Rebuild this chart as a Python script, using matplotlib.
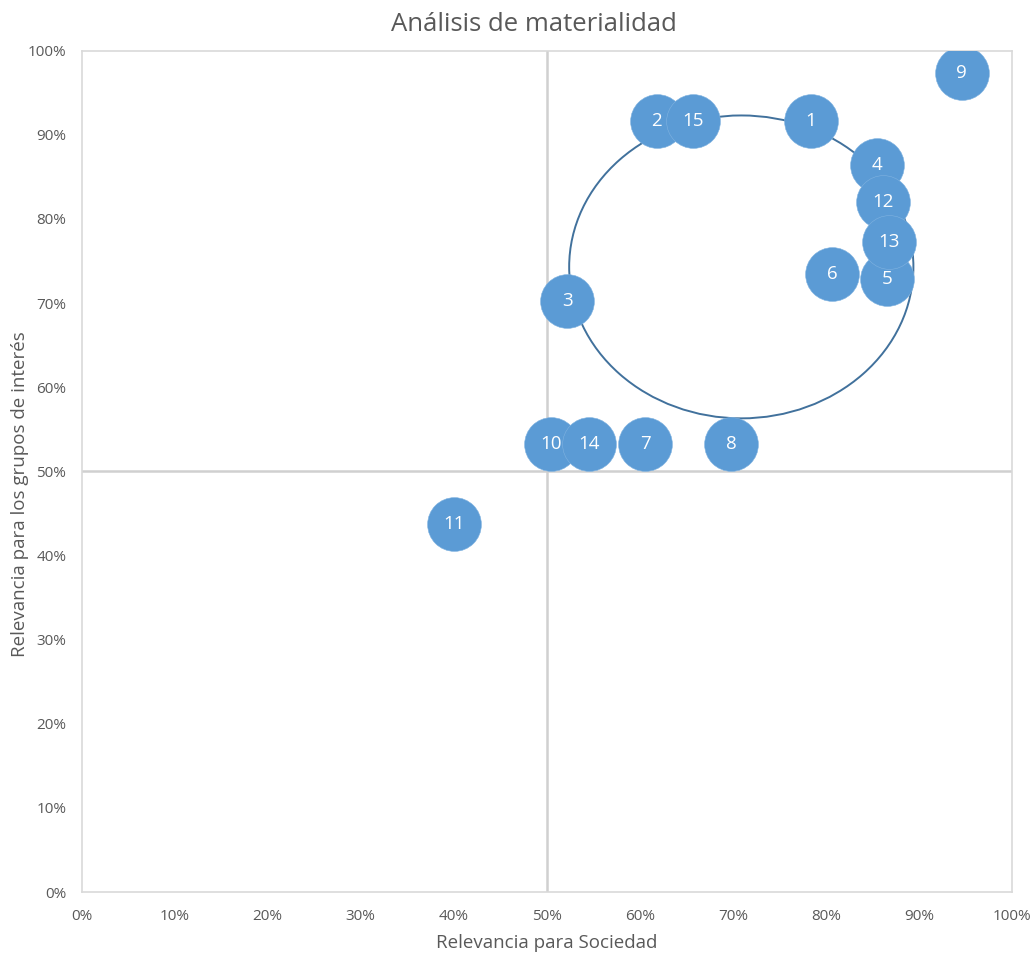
import matplotlib
matplotlib.use("Agg")
import matplotlib.pyplot as plt
from matplotlib.patches import Ellipse
from matplotlib.ticker import PercentFormatter

plt.rcParams['font.family'] = ['Open Sans', 'DejaVu Sans']

labels = ["1", "2", "3", "4", "5", "6", "7", "8", "9", "10", "11", "12", "13", "14", "15"]
sociedad = [78.4, 61.8, 52.2, 85.5, 86.6, 80.7, 60.6, 69.8, 94.6, 50.5, 40.0, 86.1, 86.8, 54.5, 65.7]
grupos = [91.7, 91.7, 70.3, 86.4, 72.9, 73.4, 53.3, 53.3, 97.3, 53.3, 43.7, 82.0, 77.3, 53.3, 91.7]

ellipse_center = (70.9, 74.3)
ellipse_size = (37.0, 36.0)

title = "Análisis de materialidad"
xlabel = "Relevancia para Sociedad"
ylabel = "Relevancia para los grupos de interés"

gray_text = "#595959"
bubble_color = "#5B9BD5"

fig = plt.figure(figsize=(10.35, 9.56), dpi=100)
ax = fig.add_axes([0.0789, 0.0669, 0.8989, 0.8801])
ax.set_xlim(0, 100)
ax.set_ylim(0, 100)

for s in ax.spines.values():
    s.set_color("#D9D9D9")
    s.set_linewidth(1.2)

ax.axvline(50, color="#D0D0D0", lw=1.8, zorder=1)
ax.axhline(50, color="#D0D0D0", lw=1.8, zorder=1)

ell = Ellipse(ellipse_center, ellipse_size[0], ellipse_size[1], fill=False,
              edgecolor="#41719C", lw=1.4, zorder=2)
ax.add_patch(ell)

ax.scatter(sociedad, grupos, s=1500, color=bubble_color, edgecolor="#7FB2E0",
           linewidth=0.4, zorder=3)
for lab, x, y in zip(labels, sociedad, grupos):
    ax.text(x, y, lab, color="white", fontsize=13.5, ha="center", va="center", zorder=4)

ax.set_xticks(range(0, 101, 10))
ax.set_yticks(range(0, 101, 10))
ax.xaxis.set_major_formatter(PercentFormatter(decimals=0))
ax.yaxis.set_major_formatter(PercentFormatter(decimals=0))
ax.tick_params(length=0, labelsize=11, colors=gray_text)
ax.tick_params(axis='x', pad=12)
ax.tick_params(axis='y', pad=11)

fig.text(0.5155, 0.974, title, ha="center", va="center", fontsize=18.5, color=gray_text)
fig.text(0.5285, 0.0136, xlabel, ha="center", va="center", fontsize=13.5, color=gray_text)
fig.text(0.019, 0.483, ylabel, ha="center", va="center", rotation=90, fontsize=13.5, color=gray_text)

fig.savefig("out.png", dpi=100)
